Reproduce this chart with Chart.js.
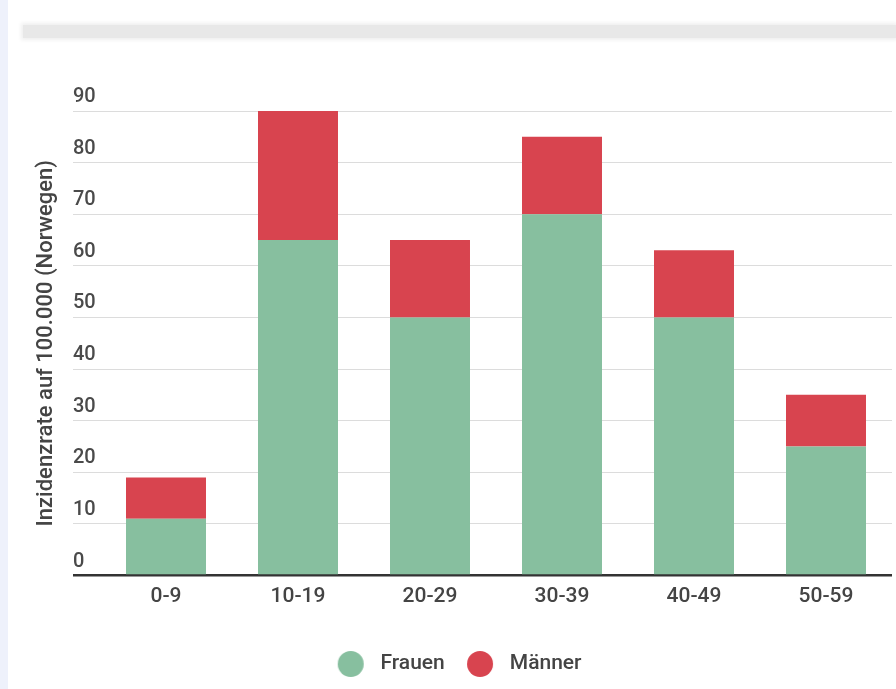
<!DOCTYPE html>
<html lang="de">
<head>
  <meta charset="UTF-8">
  <title>Inzidenzrate nach Alter</title>
  <script src="https://cdn.jsdelivr.net/npm/chart.js"></script>
  <style>
    html, body { margin: 0; padding: 0; background: #fff; overflow: hidden; }
    .strip { position: fixed; left: 0; top: 0; width: 8px; height: 100%; background: #eef1fb; }
    .divider { position: fixed; left: 23px; right: 0; top: 25px; height: 13px; background: #e8e8e8; box-shadow: 0 0 4px 2px #efefef; }
    .wrap { position: relative; width: 896px; height: 689px; }
  </style>
</head>
<body>
  <div class="strip"></div>
  <div class="divider"></div>
  <div class="wrap"><canvas id="chart"></canvas></div>

  <script>
    // Daten
    const altersgruppen = ['0-9', '10-19', '20-29', '30-39', '40-49', '50-59'];
    const frauen = [11, 65, 50, 70, 50, 25];
    const maenner = [8, 25, 15, 15, 13, 10];
    const yMax = 90;
    const yStep = 10;

    const gruen = '#87bf9f';
    const rot = '#d8444f';

    // Kreis fuer die Legende, leicht nach rechts versetzt
    function makeDot(color) {
      const off = 3, r = 13;
      const c = document.createElement('canvas');
      c.width = 2 * (off + r) + 2;
      c.height = 2 * r + 2;
      const g = c.getContext('2d');
      g.fillStyle = color;
      g.beginPath();
      g.arc(c.width / 2 + off, c.height / 2, r, 0, Math.PI * 2);
      g.fill();
      return c;
    }

    Chart.defaults.font.family = 'Roboto, "Noto Sans", sans-serif';

    const ctx = document.getElementById('chart').getContext('2d');
    new Chart(ctx, {
      type: 'bar',
      data: {
        labels: altersgruppen,
        datasets: [
          { label: 'Frauen', data: frauen, backgroundColor: gruen },
          { label: 'Männer', data: maenner, backgroundColor: rot }
        ]
      },
      options: {
        responsive: true,
        maintainAspectRatio: false,
        animation: false,
        categoryPercentage: 1,
        barPercentage: 0.606,
        layout: { padding: { left: 15, right: 4, top: 111, bottom: 4.5 } },
        plugins: {
          tooltip: { enabled: false },
          legend: {
            position: 'bottom',
            labels: {
              usePointStyle: true,
              pointStyleWidth: 44.5,
              padding: 10,
              color: '#444',
              font: { size: 21, weight: '500' },
              generateLabels: chart => {
                const items = Chart.defaults.plugins.legend.labels.generateLabels(chart);
                items.forEach(it => {
                  it.pointStyle = makeDot(chart.data.datasets[it.datasetIndex].backgroundColor);
                });
                return items;
              }
            }
          }
        },
        scales: {
          x: {
            stacked: true,
            grid: { display: false, drawTicks: false },
            border: { display: false },
            ticks: { color: '#444', padding: 9, font: { size: 21, weight: '500' } },
            afterFit: s => { s.height = 68; }
          },
          y: {
            stacked: true,
            min: 0,
            max: yMax,
            border: { display: false },
            grid: {
              color: c => c.tick && c.tick.value === 0 ? '#333' : '#dcdcdc',
              lineWidth: c => c.tick && c.tick.value === 0 ? 2.5 : 1,
              tickLength: 27
            },
            ticks: {
              stepSize: yStep,
              mirror: true,
              padding: -27,
              labelOffset: -14,
              color: '#4a4a4a',
              font: { size: 20, weight: '500' }
            },
            title: {
              display: true,
              text: 'Inzidenzrate auf 100.000 (Norwegen)',
              color: '#444',
              font: { size: 22, weight: '500' },
              padding: { top: 18, bottom: 0 }
            },
            afterFit: s => { s.width = 85; }
          }
        }
      }
    });
  </script>
</body>
</html>
